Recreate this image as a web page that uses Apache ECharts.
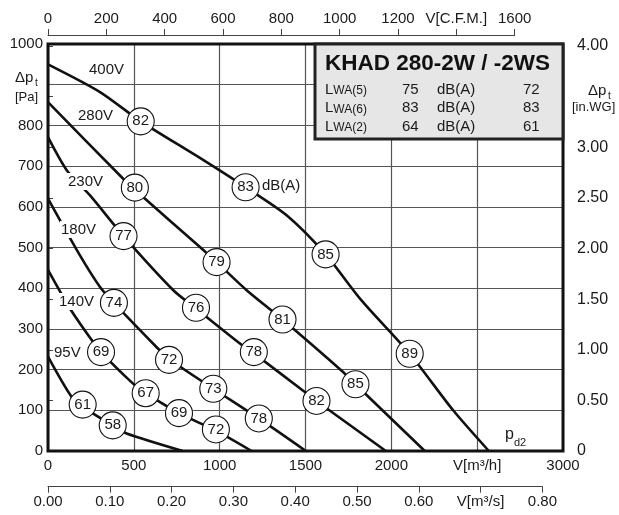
<!DOCTYPE html>
<html><head><meta charset="utf-8">
<script src="https://cdn.jsdelivr.net/npm/echarts/dist/echarts.min.js"></script>
<style>html,body{margin:0;padding:0;background:#fff}#c{width:619px;height:515px}</style>
</head><body><div id="c"></div>
<script>
// ---- data (m3/h, Pa) ----
const v400Flow = [0,303,540,885,1151,1390,1617,1826,2107,2360,2568];
const v400Pa   = [950,882,810,720,648,579,483,370,239,100,0];
const v280Flow = [0,438,506,885,982,1157,1366,1719,1791,2195];
const v280Pa   = [857,669,642,501,464,395,323,194,164,0];
const v230Flow = [0,109,245,440,730,862,1118,1199,1496,1564,1968];
const v230Pa   = [771,690,628,528,395,350,264,240,145,123,0];
const v180Flow = [0,180,303,384,633,705,963,1228,1502];
const v180Pa   = [620,485,403,364,255,226,153,80,0];
const v140Flow = [0,128,245,309,497,569,763,978,1186];
const v140Pa   = [445,350,278,243,165,142,93,50,0];
const v95Flow  = [0,138,202,264,377,458,785];
const v95Pa    = [232,133,114,92,63,43,0];
const voltLabels = ['400V','280V','230V','180V','140V','95V'];

// sound level circles
const circleFlow = [540,1151,1617,2107, 506,982,1366,1791, 440,862,1199,1564, 384,705,963,1228, 309,569,763,978, 202,377];
const circlePa   = [810,648,483,239, 647,464,323,164, 528,352,243,123, 364,224,153,80, 243,142,93,53, 114,63];
const circleDb   = [82,83,85,89, 80,79,81,85, 77,76,78,82, 74,72,73,78, 69,67,69,72, 61,58];

// axes ticks
const flowTicks = [0,500,1000,1500,2000,2500,3000];
const paTicks = [0,100,200,300,400,500,600,700,800,900,1000];
const cfmTicks = [0,200,400,600,800,1000,1200,1400,1600];
const m3sTicks = [0,0.1,0.2,0.3,0.4,0.5,0.6,0.7,0.8];
const inwgTicks = [0,0.5,1,1.5,2,2.5,3,3.5,4];

// table
const tableTitle = 'KHAD 280-2W / -2WS';
const tableRows = [['5','75','72'],['6','83','83'],['2','64','61']];

const FONT = "'Liberation Sans', Arial, Helvetica, sans-serif";
const TXT = '#1a1a1a';

const curves = [[v400Flow,v400Pa],[v280Flow,v280Pa],[v230Flow,v230Pa],[v180Flow,v180Pa],[v140Flow,v140Pa],[v95Flow,v95Pa]];
const series = curves.map(c => ({
  type:'line', xAxisIndex:0, yAxisIndex:0,
  data: c[0].map((f,i)=>[f,c[1][i]]),
  smooth:0.25, symbol:'none', silent:true,
  lineStyle:{color:'#111',width:2.6}, z:3
}));
series.push({
  type:'scatter', xAxisIndex:0, yAxisIndex:0, z:5,
  data: circleFlow.map((f,i)=>[f,circlePa[i],circleDb[i]]),
  symbol:'circle', symbolSize:27,
  itemStyle:{color:'#fff',borderColor:'#111',borderWidth:1.1,opacity:1},
  label:{show:true,position:'inside',formatter:p=>p.data[2],fontSize:15,color:TXT,fontFamily:FONT}
});

const gl = 48, gw = 515, gt = 44, gh = 407;
const cfmWidth = 1600*1.699/3000*gw;
const m3sWidth = 0.8*3600/3000*gw;

const lbl = {fontSize:15,color:TXT,fontFamily:FONT};
const option = {
  animation:false,
  backgroundColor:'#fff',
  textStyle:{fontFamily:FONT},
  grid:[
    {left:gl,top:gt,width:gw,height:gh,containLabel:false,outerBoundsMode:'none'},
    {left:gl,top:33,width:cfmWidth,height:2,containLabel:false,outerBoundsMode:'none'},
    {left:gl,top:484,width:m3sWidth,height:2.7,containLabel:false,outerBoundsMode:'none'},
    {left:gl,top:46,width:gw,height:gh-(46-gt),containLabel:false,outerBoundsMode:'none'}
  ],
  xAxis:[
    {gridIndex:0,type:'value',min:flowTicks[0],max:flowTicks[flowTicks.length-1],interval:flowTicks[1]-flowTicks[0],
     axisLine:{show:false},axisTick:{show:false},
     splitLine:{show:true,lineStyle:{color:'#555',width:1.2}},
     axisLabel:{...lbl,margin:7,formatter:v=>v===2500?'V[m³/h]':String(v)}},
    {gridIndex:1,type:'value',position:'top',min:cfmTicks[0],max:cfmTicks[cfmTicks.length-1],interval:200,
     axisLine:{show:true,lineStyle:{color:'#444',width:1}},axisTick:{show:true,inside:false,length:6,lineStyle:{color:'#444'}},
     splitLine:{show:false},
     axisLabel:{...lbl,margin:7,formatter:v=>v===1400?'V[C.F.M.]':String(v)}},
    {gridIndex:2,type:'value',position:'bottom',min:m3sTicks[0],max:m3sTicks[m3sTicks.length-1],interval:0.1,
     axisLine:{show:true,lineStyle:{color:'#444',width:1}},axisTick:{show:true,inside:false,length:6,lineStyle:{color:'#444'}},
     splitLine:{show:false},
     axisLabel:{...lbl,margin:8,formatter:v=>Math.abs(v-0.7)<1e-6?'V[m³/s]':v.toFixed(2)}},
    {gridIndex:3,type:'value',show:false,min:0,max:1}
  ],
  yAxis:[
    {gridIndex:0,type:'value',min:paTicks[0],max:paTicks[paTicks.length-1],interval:100,
     axisLine:{show:false},axisTick:{show:false},
     splitLine:{show:true,lineStyle:{color:'#555',width:1.2}},
     axisLabel:{...lbl,margin:5,formatter:v=>v===900?'':String(v)}},
    {gridIndex:1,type:'value',show:false,min:0,max:1},
    {gridIndex:2,type:'value',show:false,min:0,max:1},
    {gridIndex:3,type:'value',position:'right',offset:10,min:inwgTicks[0],max:inwgTicks[inwgTicks.length-1],interval:0.5,
     axisLine:{show:true,lineStyle:{color:'#444',width:1}},axisTick:{show:true,inside:false,length:5,lineStyle:{color:'#444'}},
     splitLine:{show:false},
     axisLabel:{fontSize:16,color:TXT,fontFamily:FONT,margin:4,formatter:v=>v===0?'0':(v===3.5?'':v.toFixed(2))}}
  ],
  series: series,
  graphic:[
    {type:'rect',z:50,silent:true,shape:{x:gl,y:gt,width:gw,height:gh},style:{fill:'none',stroke:'#111',lineWidth:3}},
    ...[[88,70],[77,116],[67,182],[60,230],[58,302],[53,353]].map((p,i)=>({
      type:'text',z:20,left:p[0],top:p[1]-9,
      style:{text:voltLabels[i],font:'15px '+FONT,fill:TXT,backgroundColor:'#fff',padding:[1,1]}
    })),
    {type:'text',z:20,left:262,top:178,style:{text:'dB(A)',font:'15px '+FONT,fill:TXT}},
    {type:'text',z:20,left:505,top:427,style:{text:'p',font:'16px '+FONT,fill:TXT}},
    {type:'text',z:20,left:514,top:437,style:{text:'d2',font:'11px '+FONT,fill:TXT}},
    {type:'text',z:20,left:15,top:70,style:{text:'Δp',font:'15px '+FONT,fill:TXT}},
    {type:'text',z:20,left:35,top:78,style:{text:'t',font:'10px '+FONT,fill:TXT}},
    {type:'text',z:20,left:15,top:91,style:{text:'[Pa]',font:'13px '+FONT,fill:TXT}},
    {type:'text',z:20,left:588,top:83,style:{text:'Δp',font:'15px '+FONT,fill:TXT}},
    {type:'text',z:20,left:608,top:91,style:{text:'t',font:'10px '+FONT,fill:TXT}},
    {type:'text',z:20,left:572,top:101,style:{text:'[in.WG]',font:'13px '+FONT,fill:TXT}},
    {type:'group',z:100,children:[
      {type:'rect',z:100,shape:{x:315,y:44,width:248,height:95},style:{fill:'#e6e6e6',stroke:'#222',lineWidth:3}},
      {type:'text',z:101,x:325,y:52,style:{text:tableTitle,font:'bold 22.5px '+FONT,fill:'#111'}},
      ...tableRows.flatMap((r,i)=>{
        const y = 82 + i*18.5;
        return [
          {type:'text',z:101,x:325,y:y,style:{text:'{a|L}{b|WA(}{b|'+r[0]+')}',fill:TXT,rich:{a:{fontSize:15,fontFamily:FONT,fill:TXT,verticalAlign:'bottom'},b:{fontSize:12,fontFamily:FONT,fill:TXT,verticalAlign:'bottom'}}}},
          {type:'text',z:101,x:402,y:y,style:{text:r[1],font:'15px '+FONT,fill:TXT}},
          {type:'text',z:101,x:437,y:y,style:{text:'dB(A)',font:'15px '+FONT,fill:TXT}},
          {type:'text',z:101,x:523,y:y,style:{text:r[2],font:'15px '+FONT,fill:TXT}}
        ];
      })
    ]}
  ]
};
const chart = echarts.init(document.getElementById('c'),null,{renderer:'canvas'});
chart.setOption(option);
</script>
</body></html>
